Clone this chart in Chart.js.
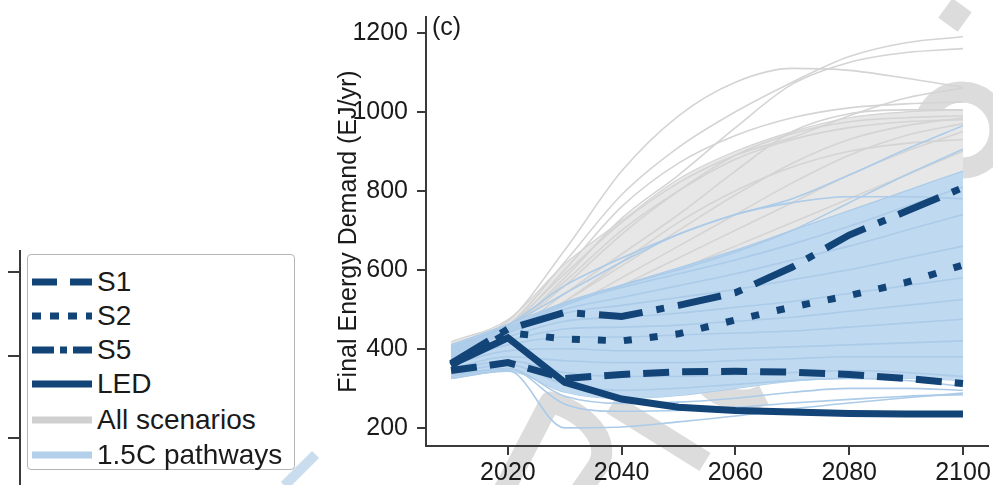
<!DOCTYPE html>
<html>
<head>
<meta charset="utf-8">
<script src="https://cdn.jsdelivr.net/npm/chart.js@4.4.1/dist/chart.umd.min.js"></script>
<style>
  html, body { margin: 0; padding: 0; background: #fff; }
  body { width: 993px; height: 485px; position: relative; overflow: hidden; font-family: "Liberation Sans", Arial, sans-serif; }
  #c { position: absolute; left: 0; top: 0; }
  .panel { position: absolute; left: 432px; top: 12px; font-size: 25px; line-height: 28px; color: #1a1a1a; }
  .legend { position: absolute; left: 27px; top: 254px; width: 266px; height: 214px; border: 1px solid #b5b5b5; border-radius: 4px; background: #fff; }
  .row { position: absolute; left: 0; height: 30px; width: 266px; }
  .row svg { position: absolute; left: 3px; top: 10px; }
  .row span { position: absolute; left: 69px; top: 0; font-size: 28px; line-height: 30px; color: #1a1a1a; white-space: nowrap; }
  .oldaxis { position: absolute; left: 19px; top: 250px; width: 2px; height: 235px; background: #3a3a3a; }
  .oldtick { position: absolute; left: 8px; width: 12px; height: 2px; background: #3a3a3a; }
  .stripe { position: absolute; left: 278px; top: 465px; width: 44px; height: 10px; background: #c9ddef; transform: rotate(-45deg); transform-origin: center; }
</style>
</head>
<body>
<canvas id="c" width="993" height="485"></canvas>
<div class="stripe"></div>
<div class="oldaxis"></div>
<div class="oldtick" style="top:271px"></div>
<div class="oldtick" style="top:355px"></div>
<div class="oldtick" style="top:437px"></div>
<div class="panel">(c)</div>
<div class="legend" id="legend"></div>
<script>
// ---------- data ----------
const years = [2010, 2020, 2030, 2040, 2050, 2060, 2070, 2080, 2090, 2100];
const xTicks = [2020, 2040, 2060, 2080, 2100];
const yTicks = [200, 400, 600, 800, 1000, 1200];

const seriesNames = ['S1', 'S2', 'S5', 'LED'];
const s1  = [345, 365, 325, 335, 342, 343, 341, 335, 325, 312];
const s2  = [358, 441, 425, 420, 438, 473, 506, 535, 568, 612];
const s5  = [363, 450, 492, 482, 510, 542, 607, 688, 748, 808];
const led = [360, 428, 315, 273, 252, 244, 240, 236, 235, 235];

// All scenarios (grey), individual pathways
const allScenarios = [
  [410, 460, 620, 790, 910, 1000, 1075, 1140, 1175, 1190],
  [400, 450, 580, 730, 840, 960, 1070, 1125, 1150, 1160],
  [410, 470, 650, 850, 990, 1075, 1110, 1105, 1085, 1062],
  [400, 440, 540, 640, 740, 850, 950, 995, 1005, 1005],
  [405, 450, 560, 690, 800, 890, 945, 975, 985, 990],
  [410, 460, 590, 720, 820, 890, 935, 990, 1035, 1060],
  [395, 440, 520, 610, 700, 790, 870, 930, 965, 985],
  [390, 430, 500, 580, 660, 740, 820, 890, 940, 970],
  [385, 425, 490, 560, 630, 700, 770, 840, 900, 950],
  [380, 420, 480, 540, 600, 660, 720, 780, 840, 900],
  [375, 415, 470, 520, 570, 620, 680, 740, 790, 840],
  [370, 410, 455, 500, 545, 590, 640, 690, 740, 790],
  [365, 400, 440, 480, 520, 560, 600, 650, 700, 750],
  [360, 395, 430, 460, 490, 520, 560, 600, 640, 680],
  [350, 385, 410, 430, 450, 470, 490, 520, 550, 580],
  [340, 370, 380, 390, 400, 410, 420, 430, 440, 450],
  [330, 360, 340, 330, 330, 340, 350, 360, 365, 370],
  [380, 430, 520, 620, 720, 800, 860, 900, 920, 930],
  [405, 455, 600, 760, 870, 940, 985, 1010, 1020, 1025],
  [400, 450, 570, 700, 800, 880, 930, 960, 975, 980]
];
const allBandUpper = [418, 474, 615, 725, 830, 900, 950, 985, 1000, 1005];
const allBandLower = [330, 350, 320, 300, 300, 310, 320, 330, 335, 340];

// 1.5C pathways (light blue), individual pathways
const pathways15 = [
  [400, 460, 560, 630, 690, 740, 770, 785, 785, 780],
  [405, 460, 540, 620, 690, 740, 780, 840, 905, 965],
  [395, 450, 510, 560, 600, 645, 700, 770, 840, 905],
  [400, 455, 515, 555, 590, 625, 665, 710, 760, 810],
  [390, 445, 500, 530, 560, 590, 625, 660, 700, 740],
  [385, 440, 490, 510, 530, 550, 575, 600, 630, 660],
  [380, 430, 470, 480, 490, 505, 520, 540, 560, 580],
  [375, 420, 450, 455, 460, 470, 480, 495, 510, 525],
  [370, 410, 430, 430, 435, 440, 445, 455, 465, 475],
  [360, 395, 400, 395, 395, 400, 405, 410, 415, 420],
  [350, 380, 370, 365, 365, 370, 375, 380, 380, 380],
  [345, 370, 340, 330, 330, 335, 340, 345, 340, 330],
  [340, 360, 310, 295, 300, 310, 320, 325, 320, 305],
  [330, 350, 280, 262, 265, 275, 290, 300, 300, 295],
  [325, 345, 200, 202, 215, 230, 248, 263, 276, 288],
  [335, 350, 260, 242, 244, 252, 263, 272, 280, 284]
];
const p15BandUpper = [410, 462, 518, 562, 605, 650, 700, 750, 800, 850];
const p15BandLower = [325, 343, 290, 274, 282, 300, 318, 325, 325, 320];

// ---------- styles ----------
const NAVY = '#124478';
const GREY_LINE = '#d4d4d4';
const GREY_FILL = '#e7e7e7';
const BLUE_LINE = '#abcbe8';
const BLUE_FILL = '#bfd9f0';
const MARK = '#dcdcdc';

const pts = arr => years.map((x, i) => ({ x: x, y: arr[i] }));

const datasets = [];
const mainStyles = [
  { data: s1, dash: [26, 13] },
  { data: s2, dash: [8, 18] },
  { data: s5, dash: [44, 14, 8, 14] },
  { data: led, dash: [] }
];
mainStyles.forEach((m, i) => {
  datasets.push({ label: seriesNames[i], data: pts(m.data), borderColor: NAVY, borderWidth: 7,
    borderDash: m.dash, borderCapStyle: 'butt', borderJoinStyle: 'miter', tension: 0, fill: false, order: 0 });
});
pathways15.forEach((p, i) => {
  datasets.push({ label: '1.5C pathways ' + (i + 1), data: pts(p), borderColor: BLUE_LINE, borderWidth: 1.6,
    cubicInterpolationMode: 'monotone', fill: false, order: 1 });
});
datasets.push({ label: '1.5C band upper', data: pts(p15BandUpper), borderColor: BLUE_LINE, borderWidth: 1.2,
  backgroundColor: BLUE_FILL, fill: '+1', cubicInterpolationMode: 'monotone', order: 2 });
datasets.push({ label: '1.5C band lower', data: pts(p15BandLower), borderColor: BLUE_LINE, borderWidth: 1.2,
  fill: false, cubicInterpolationMode: 'monotone', order: 2 });
allScenarios.forEach((p, i) => {
  datasets.push({ label: 'All scenarios ' + (i + 1), data: pts(p), borderColor: GREY_LINE, borderWidth: 1.6,
    cubicInterpolationMode: 'monotone', fill: false, order: 3 });
});
datasets.push({ label: 'All band upper', data: pts(allBandUpper), borderColor: GREY_LINE, borderWidth: 1.2,
  backgroundColor: GREY_FILL, fill: '+1', cubicInterpolationMode: 'monotone', order: 4 });
datasets.push({ label: 'All band lower', data: pts(allBandLower), borderColor: GREY_LINE, borderWidth: 1.2,
  fill: false, cubicInterpolationMode: 'monotone', order: 4 });

// faint background watermark fragments (drawn beneath everything)
const watermark = {
  id: 'watermark',
  beforeDraw(chart) {
    const ctx = chart.ctx;
    ctx.save();
    ctx.strokeStyle = MARK;
    ctx.fillStyle = MARK;
    ctx.lineWidth = 21;
    ctx.lineCap = 'butt';
    ctx.lineJoin = 'round';
    ctx.beginPath();
    ctx.moveTo(503, 492);
    ctx.lineTo(550, 402);
    ctx.bezierCurveTo(585, 412, 612, 440, 598, 466);
    ctx.lineTo(580, 492);
    ctx.stroke();
    ctx.beginPath();
    ctx.moveTo(612, 404);
    ctx.lineTo(705, 462);
    ctx.stroke();
    ctx.beginPath();
    ctx.arc(742, 352, 48, 0.35 * Math.PI, 0.95 * Math.PI);
    ctx.stroke();
    ctx.beginPath();
    ctx.arc(962, 130, 38, 0, 2 * Math.PI);
    ctx.stroke();
    ctx.translate(955, 15);
    ctx.rotate(Math.PI / 5);
    ctx.fillRect(-12, -12, 24, 24);
    ctx.restore();
  }
};

Chart.defaults.font.family = '"Liberation Sans", Arial, sans-serif';
Chart.defaults.color = '#1a1a1a';

const AXIS = '#3a3a3a';
new Chart(document.getElementById('c'), {
  type: 'line',
  data: { datasets: datasets },
  plugins: [watermark],
  options: {
    responsive: false,
    animation: false,
    events: [],
    layout: { padding: { left: 326, right: 5, top: 17, bottom: 0 } },
    elements: { point: { radius: 0 } },
    plugins: { legend: { display: false }, tooltip: { enabled: false } },
    scales: {
      x: {
        type: 'linear', min: 2005.6, max: 2104.4,
        afterBuildTicks: s => { s.ticks = xTicks.map(v => ({ value: v })); },
        afterFit: s => { s.height = 39; s.paddingLeft = 0; s.paddingRight = 0; },
        grid: { drawOnChartArea: false, drawTicks: true, tickLength: 9, color: AXIS, lineWidth: 2 },
        border: { display: true, color: AXIS, width: 2 },
        ticks: { font: { size: 25 }, color: '#1a1a1a', padding: 3, maxRotation: 0, autoSkip: false, callback: v => String(v) }
      },
      y: {
        type: 'linear', min: 154, max: 1240,
        afterBuildTicks: s => { s.ticks = yTicks.map(v => ({ value: v })); },
        afterFit: s => { s.width = 100; s.paddingTop = 0; s.paddingBottom = 0; },
        grid: { drawOnChartArea: false, drawTicks: true, tickLength: 9, color: AXIS, lineWidth: 2 },
        border: { display: true, color: AXIS, width: 2 },
        title: { display: true, text: 'Final Energy Demand (EJ/yr)', font: { size: 25 }, color: '#1a1a1a', padding: { top: 8, bottom: 0 } },
        ticks: { font: { size: 25 }, color: '#1a1a1a', padding: 9, autoSkip: false, callback: v => String(v) }
      }
    }
  }
});

// ---------- legend ----------
const legendItems = [
  { text: 'S1', color: NAVY, dash: '25,13' },
  { text: 'S2', color: NAVY, dash: '9,9' },
  { text: 'S5', color: NAVY, dash: '22,6,7,6' },
  { text: 'LED', color: NAVY, dash: '' },
  { text: 'All scenarios', color: '#d0d0d0', dash: '' },
  { text: '1.5C pathways', color: '#b3d0ea', dash: '' }
];
const rowCenters = [282, 316, 350, 384, 420, 455];
const leg = document.getElementById('legend');
legendItems.forEach((it, i) => {
  const row = document.createElement('div');
  row.className = 'row';
  row.style.top = (rowCenters[i] - 255 - 15) + 'px';
  row.innerHTML = '<svg width="62" height="10"><line x1="1" y1="5" x2="61" y2="5" stroke="' + it.color +
    '" stroke-width="7"' + (it.dash ? ' stroke-dasharray="' + it.dash + '"' : '') + '/></svg><span>' + it.text + '</span>';
  leg.appendChild(row);
});
</script>
</body>
</html>
